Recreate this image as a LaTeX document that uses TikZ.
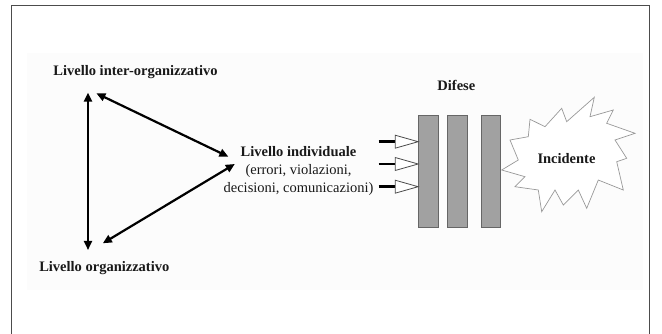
\documentclass[tikz,border=0pt]{standalone}
\usepackage{fontspec}
\setmainfont{Liberation Serif}
\usetikzlibrary{arrows.meta}
\begin{document}
\begin{tikzpicture}[x=1pt,y=-1pt,
  lbl/.style={font=\fontsize{14.5}{17.8}\selectfont, inner sep=0pt, align=center, text=black!90},
  blbl/.style={lbl, font=\fontsize{14.5}{17.8}\selectfont\bfseries},
  dbl/.style={line width=2.2pt, {Triangle[length=9pt,width=8pt]}-{Triangle[length=9pt,width=8pt]}},
  shaft/.style={line width=2.6pt},
  openhead/.style={draw=black!70, fill=white, line width=0.8pt, line join=miter},
  bar/.style={draw=black!60, fill=black!37, line width=0.8pt, minimum width=19.5pt, minimum height=112.7pt, inner sep=0pt},
  burst/.style={draw=black!40, fill=white, line width=0.7pt, line join=miter}]
\useasboundingbox (0,0) rectangle (662,334);
\fill[black!1] (27,53) rectangle (643,290);
\draw[black!70, line width=1pt] (11,345) -- (11,6) -- (649,6) -- (649,345);

% labels
\node[blbl, anchor=base] (inter) at (135.5,75.5) {Livello inter-organizzativo};
\node[blbl, anchor=base] (org) at (104.3,271.5) {Livello organizzativo};
\node[lbl] (ind) at (298.5,170.9) {\textbf{Livello individuale}\\(errori, violazioni,\\decisioni, comunicazioni)};
\node[blbl, anchor=base] (dif) at (456.4,90.5) {Difese};

% triangle connectors
\coordinate (vTop) at (88,92.7);
\coordinate (vBot) at (88,250);
\coordinate (dTop) at (96.4,93.3);
\coordinate (dInd1) at (228.4,156.7);
\coordinate (dInd2) at (234.8,164);
\coordinate (dBot) at (102.8,243.3);
\draw[dbl] (vTop) -- (vBot);
\draw[dbl] (dTop) -- (dInd1);
\draw[dbl] (dInd2) -- (dBot);

% defences
\node[bar] (b1) at (428.3,171.35) {};
\node[bar] (b2) at (457.2,171.35) {};
\node[bar] (b3) at (490.7,171.35) {};

% small open arrows
\foreach \yy/\nm in {141.7/a1,164/a2,186.7/a3}{
  \coordinate (\nm s) at (378.6,\yy);
  \coordinate (\nm t) at (b1.west |- \nm s);
  \draw[shaft] (\nm s) -- ++(17,0);
  \draw[openhead] (\nm t) -- ++(-23,-6.5) -- ++(0,13) -- cycle;
}

% incident burst
\draw[burst] (530,119.3) -- (545,126.7) -- (561.7,108.3) -- (566.7,121.7) -- (594.3,97.3)
  -- (590,116.7) -- (613.3,110) -- (606.7,123.3) -- (635,133.3) -- (615,140)
  -- (626.7,158.3) -- (616.7,161.7) -- (623.3,190) -- (598.3,180) -- (586.7,208.3)
  -- (578.3,190) -- (563.3,205) -- (555,190) -- (541.7,211.7) -- (538.3,190)
  -- (515,186.7) -- (525,176.7) -- (501.7,170) -- (518.3,160) -- (510,140)
  -- (528.3,136.7) -- cycle;
\node[blbl, anchor=base] (inc) at (566.5,163.8) {Incidente};
\end{tikzpicture}
\end{document}
